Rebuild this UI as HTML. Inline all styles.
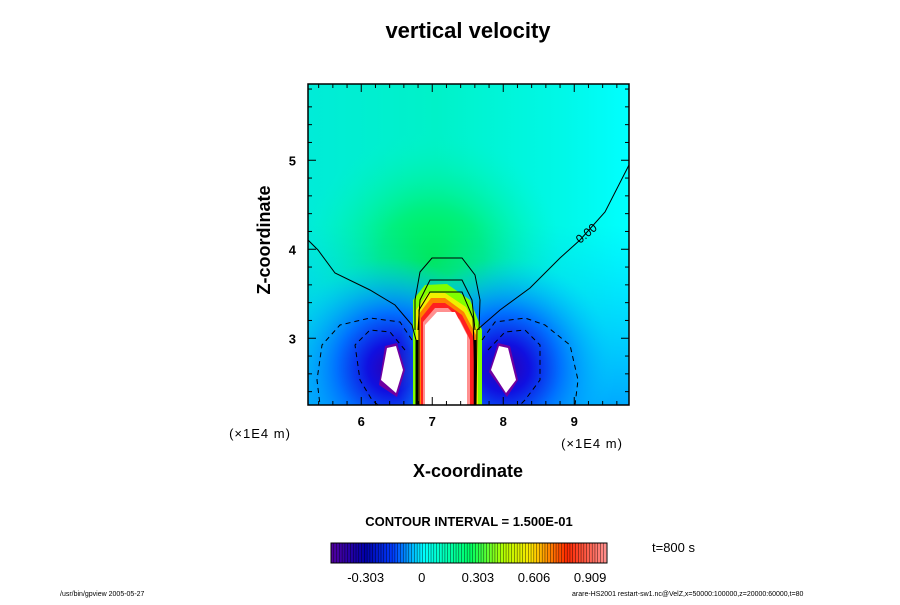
<!DOCTYPE html>
<html><head><meta charset="utf-8"><style>
body{margin:0;background:#fff;font-family:"Liberation Sans",sans-serif}
svg text{font-family:"Liberation Sans",sans-serif}
</style></head><body>
<svg width="900" height="600" viewBox="0 0 900 600">
<defs>
<radialGradient id="gGreen" cx="432" cy="260" r="130" gradientUnits="userSpaceOnUse">
<stop offset="0" stop-color="#00f040"/><stop offset="0.4" stop-color="#00f080"/><stop offset="1" stop-color="#00f5c8" stop-opacity="0"/></radialGradient>
<radialGradient id="gBlueL" cx="392" cy="368" r="110" gradientUnits="userSpaceOnUse">
<stop offset="0" stop-color="#3000b0"/><stop offset="0.22" stop-color="#1010e0"/><stop offset="0.5" stop-color="#0070ff"/><stop offset="1" stop-color="#00c8ff" stop-opacity="0"/></radialGradient>
<radialGradient id="gBlueR" cx="505" cy="368" r="110" gradientUnits="userSpaceOnUse">
<stop offset="0" stop-color="#3000b0"/><stop offset="0.22" stop-color="#1010e0"/><stop offset="0.5" stop-color="#0070ff"/><stop offset="1" stop-color="#00c8ff" stop-opacity="0"/></radialGradient>
<linearGradient id="gBg" x1="0" y1="0" x2="1" y2="0">
<stop offset="0" stop-color="#00ecd8"/><stop offset="0.4" stop-color="#00f2c8"/><stop offset="0.8" stop-color="#00f8e8"/><stop offset="1" stop-color="#00ffff"/></linearGradient>
<linearGradient id="gLow" x1="0" y1="0" x2="0" y2="1">
<stop offset="0" stop-color="#00c0ff" stop-opacity="0"/><stop offset="1" stop-color="#00a0ff" stop-opacity="0.9"/></linearGradient>
<clipPath id="clip"><rect x="308" y="84" width="321" height="321"/></clipPath>
</defs>
<text x="468" y="38" text-anchor="middle" font-size="22" font-weight="bold">vertical velocity</text>
<g clip-path="url(#clip)">
<rect x="308" y="84" width="321" height="321" fill="url(#gBg)"/>
<rect x="308" y="84" width="321" height="321" fill="url(#gGreen)"/>
<rect x="308" y="225" width="321" height="180" fill="url(#gLow)"/>
<ellipse cx="392" cy="368" rx="110" ry="110" fill="url(#gBlueL)"/>
<ellipse cx="505" cy="368" rx="110" ry="110" fill="url(#gBlueR)"/>
<path d="M413,405 L413,300 L425,285 L447,284 L470,300 L482,330 L482,405 Z" fill="#80ff00"/>
<path d="M416,405 L416,310 L428,293 L445,293 L466,307 L478,330 L478,405 Z" fill="#f0f000"/>
<path d="M419,405 L419,314 L431,298 L445,298 L464,312 L476,335 L476,405 Z" fill="#ff8000"/>
<path d="M421,405 L421,318 L433,303 L445,303 L462,315 L474,338 L474,405 Z" fill="#ff2020"/>
<path d="M423,405 L423,322 L435,308 L448,308 L460,320 L470,340 L470,405 Z" fill="#ff9090"/>
<path d="M425,405 L425,325 L437,312 L455,312 L467,335 L467,405 Z" fill="#ffffff"/>
<path d="M379,385 L385,346 L397,343 L405,370 L397,397 Z" fill="#7000a0"/>
<path d="M381,380 L387,348 L396,346 L403,370 L396,393 Z" fill="#fff"/>
<path d="M489,372 L498,343 L510,346 L518,380 L507,397 Z" fill="#7000a0"/>
<path d="M491,370 L499,346 L508,348 L516,380 L506,393 Z" fill="#fff"/>
<g fill="none" stroke="#000" stroke-width="1">
<path d="M308,240 L318,250 L335,273 L370,290 L395,305 L412,325 L416,340 L416,405"/>
<path d="M476,405 L477,330 L500,310 L530,288 L560,258 L580,240 L605,212 L629,165"/>
<path d="M415,330 L415,300 L420,272 L432,258 L462,258 L475,275 L480,300 L479,330"/>
<path d="M418,330 L420,300 L430,280 L462,280 L472,300 L475,330"/>
<path d="M419,405 L419,310 L430,292 L462,292 L473,318 L476,405"/>
<path d="M417,340 L417,405 M475,340 L475,405" stroke-width="2.5"/>
<g stroke-dasharray="5,4">
<path d="M412,340 L400,322 L370,318 L340,325 L322,345 L317,380 L320,405"/>
<path d="M405,350 L390,332 L370,330 L355,345 L360,380 L372,400 L378,405"/>
<path d="M482,340 L495,322 L525,318 L545,325 L570,345 L578,380 L575,405"/>
<path d="M488,350 L505,332 L525,330 L540,345 L540,380 L525,400 L520,405"/>
</g>
</g>
<text x="580" y="244" font-size="12" transform="rotate(-40 580 244)">0.00</text>
</g>
<rect x="308" y="84" width="321" height="321" fill="none" stroke="#000" stroke-width="1.5"/>
<g id="ticks"></g>
<text x="275" y="245" text-anchor="middle" font-size="18" font-weight="bold" transform="rotate(-90 270 245)">Z-coordinate</text>
<text x="468" y="477" text-anchor="middle" font-size="18" font-weight="bold">X-coordinate</text>
<text x="260" y="438" text-anchor="middle" font-size="13" letter-spacing="1">(×1E4 m)</text>
<text x="592" y="448" text-anchor="middle" font-size="13" letter-spacing="1">(×1E4 m)</text>
<text x="469" y="526" text-anchor="middle" font-size="13" font-weight="bold">CONTOUR INTERVAL = 1.500E-01</text>
<g id="cbar"></g>
<rect x="331" y="543" width="276" height="20" fill="none" stroke="#000"/>
<text x="652" y="552" font-size="13">t=800 s</text>
<text x="60" y="596" font-size="7">/usr/bin/gpview 2005-05-27</text>
<text x="572" y="596" font-size="7">arare-HS2001 restart-sw1.nc@VelZ,x=50000:100000,z=20000:60000,t=80</text>
</svg>
<script>
const xTicks=[6,7,8,9];
const zTicks=[3,4,5];
const cbTickVals=[-0.303,0,0.303,0.606,0.909];
const cbTickLabels=["-0.303","0","0.303","0.606","0.909"];
const cbMin=-0.49, cbMax=1.0, cbStep=0.015;
const ns="http://www.w3.org/2000/svg";
const xs=v=>308+(v-5.25)*71, zs=v=>405-(v-2.25)*89, cs=v=>331+(v-cbMin)/(cbMax-cbMin)*276;
const tk=document.getElementById('ticks');
function line(g,x1,y1,x2,y2){const l=document.createElementNS(ns,'line');l.setAttribute('x1',x1);l.setAttribute('y1',y1);l.setAttribute('x2',x2);l.setAttribute('y2',y2);l.setAttribute('stroke','#000');g.appendChild(l);return l;}
function txt(g,x,y,s,size,anchor){const t=document.createElementNS(ns,'text');t.setAttribute('x',x);t.setAttribute('y',y);t.setAttribute('font-size',size);t.setAttribute('font-weight','bold');t.setAttribute('text-anchor',anchor);t.textContent=s;g.appendChild(t);return t;}
for(let i=27;i<=48;i++){const v=i/5;const x=xs(v);const major=i%5===0;const L=major?8:4;line(tk,x,405,x,405-L);line(tk,x,84,x,84+L);}
for(let i=12;i<=29;i++){const v=i/5;const y=zs(v);const major=i%5===0;const L=major?8:4;line(tk,308,y,308+L,y);line(tk,629,y,629-L,y);}
xTicks.forEach(v=>{const t=txt(tk,xs(v),426,String(v),13,'middle');

});
zTicks.forEach(v=>{const t=txt(tk,296,zs(v)+5,String(v),13,'end');

});
function col(f){const stops=[[0,[80,0,160]],[0.12,[0,0,170]],[0.22,[0,60,255]],[0.33,[0,255,255]],[0.5,[0,255,100]],[0.62,[180,255,0]],[0.72,[255,230,0]],[0.85,[255,40,0]],[1,[255,150,150]]];
for(let i=1;i<stops.length;i++){if(f<=stops[i][0]){const a=stops[i-1],b=stops[i],t=(f-a[0])/(b[0]-a[0]);return 'rgb('+a[1].map((c,k)=>Math.round(c+(b[1][k]-c)*t)).join(',')+')';}}return 'rgb(255,150,150)';}
const cb=document.getElementById('cbar');
const nBands=Math.round((cbMax-cbMin)/cbStep);
for(let i=0;i<nBands;i++){const v=cbMin+i*cbStep;const r=document.createElementNS(ns,'rect');const x=cs(v);r.setAttribute('x',x);r.setAttribute('y',543);r.setAttribute('width',cs(v+cbStep)-x+0.3);r.setAttribute('height',20);r.setAttribute('fill',col((v-cbMin)/(cbMax-cbMin)));


cb.appendChild(r);const l=line(cb,x,543,x,563);l.setAttribute('stroke-width','0.4');l.setAttribute('stroke','#000');}
cbTickVals.forEach((v,i)=>{const t=txt(cb,cs(v),582,cbTickLabels[i],13,'middle');t.setAttribute('font-weight','normal');

});
</script>
</body></html>
